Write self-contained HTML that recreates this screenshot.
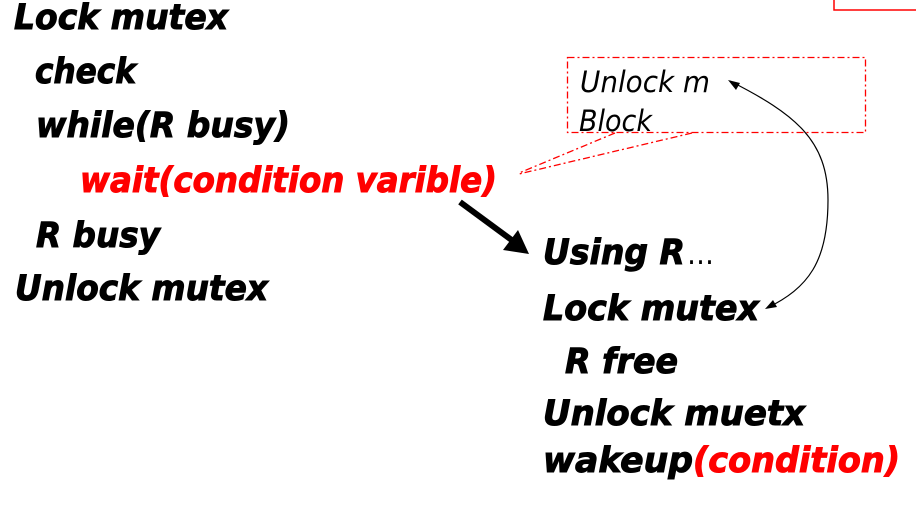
<!DOCTYPE html>
<html>
<head>
<meta charset="utf-8">
<style>
html,body{margin:0;padding:0;background:#fff;}
svg{display:block;}
.b{font-family:"DejaVu Sans","Liberation Sans",sans-serif;font-weight:bold;font-style:italic;font-size:35px;fill:#000;stroke:#000;stroke-width:1;}
.r{fill:#ff0000;stroke:#ff0000;}
.n{font-family:"DejaVu Sans","Liberation Sans",sans-serif;font-style:italic;font-size:29px;fill:#000;}
</style>
</head>
<body>
<svg width="916" height="511" viewBox="0 0 916 511" xmlns="http://www.w3.org/2000/svg">

  <!-- top-right red corner -->
  <path d="M834,0 L834,10 L916,10" fill="none" stroke="#ff0000" stroke-width="1.5"/>

  <!-- left column -->
  <text class="b" x="14" y="29" textLength="214" lengthAdjust="spacingAndGlyphs">Lock mutex</text>
  <text class="b" x="35" y="83" textLength="101" lengthAdjust="spacingAndGlyphs">check</text>
  <text class="b" x="36" y="137" textLength="254" lengthAdjust="spacingAndGlyphs">while(R busy)</text>
  <text class="b r" x="80" y="192" textLength="417" lengthAdjust="spacingAndGlyphs">wait(condition varible)</text>
  <text class="b" x="36" y="247" textLength="124" lengthAdjust="spacingAndGlyphs">R busy</text>
  <text class="b" x="15" y="300" textLength="253" lengthAdjust="spacingAndGlyphs">Unlock mutex</text>

  <!-- callout box -->
  <g fill="none" stroke="#ff0000" stroke-width="1.3" stroke-dasharray="7,3,2,3">
    <rect x="567.5" y="57.5" width="298" height="75"/>
    <path d="M615,133 L519,173 M692,133 L519,174"/>
  </g>
  <text class="n" x="580" y="92" textLength="130" lengthAdjust="spacingAndGlyphs">Unlock m</text>
  <text class="n" x="579" y="131" textLength="73" lengthAdjust="spacingAndGlyphs">Block</text>

  <!-- thick arrow -->
  <line x1="460" y1="202" x2="513" y2="241" stroke="#000" stroke-width="6"/>
  <path d="M529,254 L503,250 L518,230 z" fill="#000"/>

  <!-- curved arrow -->
  <path d="M730,81 C795,114 828,140 828,200 C828,262 808,288 767,308" fill="none" stroke="#000" stroke-width="1.2"/>
  <path d="M728,80 L740,83 L736,90 z" fill="#000"/>
  <path d="M765,309 L773,300 L777,307 z" fill="#000"/>

  <!-- right column -->
  <text class="b" x="543" y="264" textLength="142" lengthAdjust="spacingAndGlyphs">Using R</text>
  <text x="687" y="264" font-family="DejaVu Sans, sans-serif" font-size="30" fill="#000" textLength="27" lengthAdjust="spacingAndGlyphs">…</text>
  <text class="b" x="543" y="320" textLength="216" lengthAdjust="spacingAndGlyphs">Lock mutex</text>
  <text class="b" x="565" y="373" textLength="113" lengthAdjust="spacingAndGlyphs">R free</text>
  <text class="b" x="543" y="425" textLength="262" lengthAdjust="spacingAndGlyphs">Unlock muetx</text>
  <text class="b" x="543" y="472" textLength="150" lengthAdjust="spacingAndGlyphs">wakeup</text>
  <text class="b r" x="693" y="472" textLength="207" lengthAdjust="spacingAndGlyphs">(condition)</text>
</svg>
</body>
</html>
